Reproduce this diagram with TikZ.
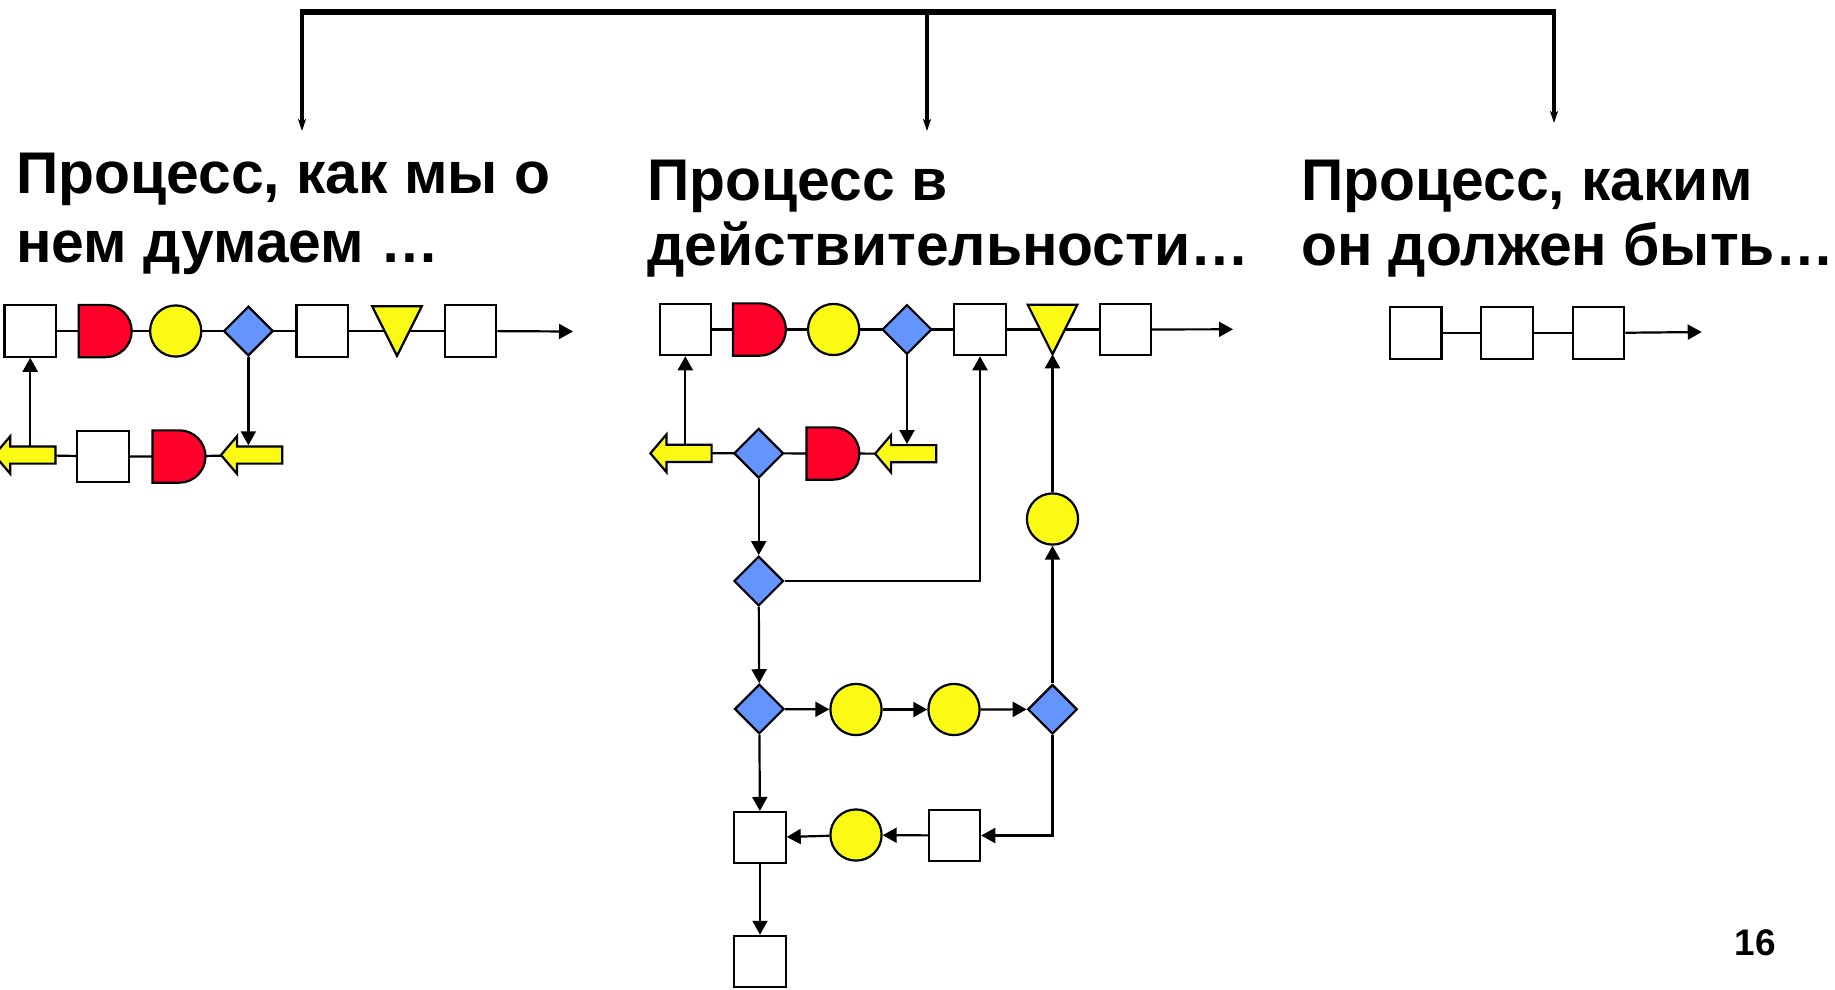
\documentclass[tikz,border=0pt]{standalone}
\usepackage{fontspec}
\setmainfont{Liberation Sans}
\usetikzlibrary{shapes.geometric,shapes.misc,arrows.meta,calc}

\pgfdeclarelayer{bg}
\pgfsetlayers{bg,main}

\definecolor{dred}{RGB}{255,0,43}
\definecolor{dyel}{RGB}{250,250,20}
\definecolor{dblue}{RGB}{100,149,255}

\tikzset{
  outline/.style={draw=black, line width=2.2pt, inner sep=0pt},
  box/.style={outline, rectangle, fill=white, minimum size=51.3pt},
  circ/.style={outline, circle, fill=dyel, minimum size=51.2pt},
  dia/.style={outline, diamond, aspect=1, fill=dblue, minimum width=49.6pt, minimum height=49.6pt},
  dshape/.style={outline, rounded rectangle, rounded rectangle left arc=none, fill=dred,
                 minimum width=53pt, minimum height=52.3pt},
  tslot/.style={rectangle, draw=none, inner sep=0pt, outer sep=0pt, minimum width=49.6pt, minimum height=49.6pt},
  aslot/.style={rectangle, draw=none, inner sep=0pt, outer sep=0pt, minimum width=61.2pt, minimum height=37.6pt},
  yfill/.style={draw=black, fill=dyel, line width=2.2pt, line join=miter},
  conn/.style={line width=2.2pt},
  arr/.style={conn, -{Triangle[length=14pt,width=15pt]}},
  toparr/.style={line width=3.5pt, -{Stealth[length=12pt,width=8pt,inset=3pt]}},
  title/.style={font=\bfseries\fontsize{58.8}{68}\selectfont, inner sep=0pt, anchor=base west},
}

% inverted yellow triangle filling a slot node
\newcommand\downtri[1]{\filldraw[yfill] (#1.north west) -- (#1.north east) -- (#1.south) -- cycle;}
% left-pointing yellow block arrow filling a slot node
\newcommand\blockarrowleft[1]{\filldraw[yfill,shift={(#1.center)}]
  (-30.6,0) -- (-14.6,-18.8) -- (-14.6,-8.6) -- (30.6,-8.6) -- (30.6,8.6)
  -- (-14.6,8.6) -- (-14.6,18.8) -- cycle;}

\begin{document}
\begin{tikzpicture}[x=1pt,y=-1pt]
\useasboundingbox (0,0) rectangle (1835,989);

% ---- bracket on top ----
\coordinate (B1) at (302,12);
\coordinate (B2) at (927,12);
\coordinate (B3) at (1554,12);
\coordinate (T1) at (302,131);
\coordinate (T2) at (927,131);
\coordinate (T3) at (1554,123);
\draw[line width=6pt, shorten <=-1.75pt, shorten >=-1.75pt] (B1) -- (B3);
\draw[toparr] (B1) -- (T1);
\draw[toparr] (B2) -- (T2);
\draw[toparr] (B3) -- (T3);

% ---- titles ----
\node[title] (tL1) at (16,193.3) {Процесс, как мы о};
\node[title] (tL2) at (16,262.3) {нем думаем …};
\node[title] (tM1) at (647,200) {Процесс в};
\node[title] (tM2) at (647,265.5) {действительности…};
\node[title] (tR1) at (1301,200) {Процесс, каким};
\node[title] (tR2) at (1301,265.5) {он должен быть…};

% ---- left process ----
\node[box]    (L1) at (30.2,331) {};
\node[dshape] (L2) at (105.2,331) {};
\node[circ]   (L3) at (175.7,331) {};
\node[dia]    (L4) at (248.4,331) {};
\node[box]    (L5) at (322.2,331) {};
\node[tslot]  (L6) at (397,331) {}; \downtri{L6}
\node[box]    (L7) at (470.7,331) {};
\coordinate (Lend) at (573,331.5);
\node[aslot]  (LA) at (24.9,455) {}; \blockarrowleft{LA}
\node[box]    (L8) at (103,456.5) {};
\node[dshape] (L9) at (179,456.5) {};
\node[aslot]  (LB) at (251.6,455) {}; \blockarrowleft{LB}

% ---- actual process ----
\node[box]    (M1) at (685.3,329.5) {};
\node[dshape] (M2) at (759.4,329.5) {};
\node[circ]   (M3) at (833.6,329.5) {};
\node[dia]    (M4) at (907,329.5) {};
\node[box]    (M5) at (980,329.5) {};
\node[tslot]  (M6) at (1052.5,329.5) {}; \downtri{M6}
\node[box]    (M7) at (1125.4,329.5) {};
\coordinate (Mend) at (1233,329.3);
\node[aslot]  (MA) at (681,453.3) {}; \blockarrowleft{MA}
\node[dia]    (M8) at (758.7,453.3) {};
\node[dshape] (M9) at (832.9,453.5) {};
\node[aslot]  (MB) at (905.7,453.7) {}; \blockarrowleft{MB}
\node[dia]    (M10) at (758.7,581) {};
\node[dia]    (M11) at (759.3,709) {};
\node[circ]   (M12) at (856,709.5) {};
\node[circ]   (M13) at (954,709.5) {};
\node[dia]    (M14) at (1052.5,709.3) {};
\node[circ]   (M15) at (1052.5,519) {};
\node[box]    (M16) at (760,837.7) {};
\node[circ]   (M17) at (856,835) {};
\node[box]    (M18) at (954.5,835.5) {};
\node[box]    (M19) at (760,961.5) {};

% ---- intended process ----
\node[box] (R1) at (1415.8,333) {};
\node[box] (R2) at (1507,333) {};
\node[box] (R3) at (1598.7,333) {};
\coordinate (Rend) at (1701.7,332);

% ---- page number ----
\node[font=\bfseries\fontsize{37}{40}\selectfont, inner sep=0pt, anchor=base] (pg) at (1755,955) {16};

% ---- connectors, kept behind the shapes ----
\begin{pgfonlayer}{bg}
  % left
  \draw[conn] (L1.center) -- (L2.center) -- (L3.center) -- (L4.center) -- (L5.center) -- (L6.center) -- (L7.center);
  \draw[arr] (L7) -- (Lend);
  \draw[arr] (L1.south |- LA.center) -- (L1.south);
  \draw[arr] (L4.south) -- ($(L4.south |- LB.center)+(0,-9.7)$);
  \draw[conn] (LA.center) -- (L8.center) -- (L9.center) -- (LB.center);
  % middle
  \draw[conn] (M1.center) -- (M2.center) -- (M3.center) -- (M4.center) -- (M5.center) -- (M6.center) -- (M7.center);
  \draw[arr] (M7) -- (Mend);
  \draw[arr] (M1.south |- MA.center) -- (M1.south);
  \draw[arr] (M4.south) -- ($(M4.south |- MB.center)+(0,-9.7)$);
  \draw[conn] (MA.center) -- (M8.center) -- (M9.center) -- (MB.center);
  \draw[arr] (M8) -- (M10);
  \draw[arr] (M10.east) -| (M5.south);
  \draw[arr] (M10) -- (M11);
  \draw[arr] (M11) -- (M12);
  \draw[arr] (M12) -- (M13);
  \draw[arr] (M13) -- (M14);
  \draw[arr] (M14) -- (M15);
  \draw[arr] (M15) -- (M6.south);
  \draw[arr] (M14.south) |- (M18.east);
  \draw[arr] (M18) -- (M17);
  \draw[arr] (M17) -- (M16);
  \draw[arr] (M11) -- (M16);
  \draw[arr] (M16) -- (M19);
  % right
  \draw[conn] (R1.center) -- (R2.center) -- (R3.center);
  \draw[arr] (R3) -- (Rend);
\end{pgfonlayer}
\end{tikzpicture}
\end{document}
